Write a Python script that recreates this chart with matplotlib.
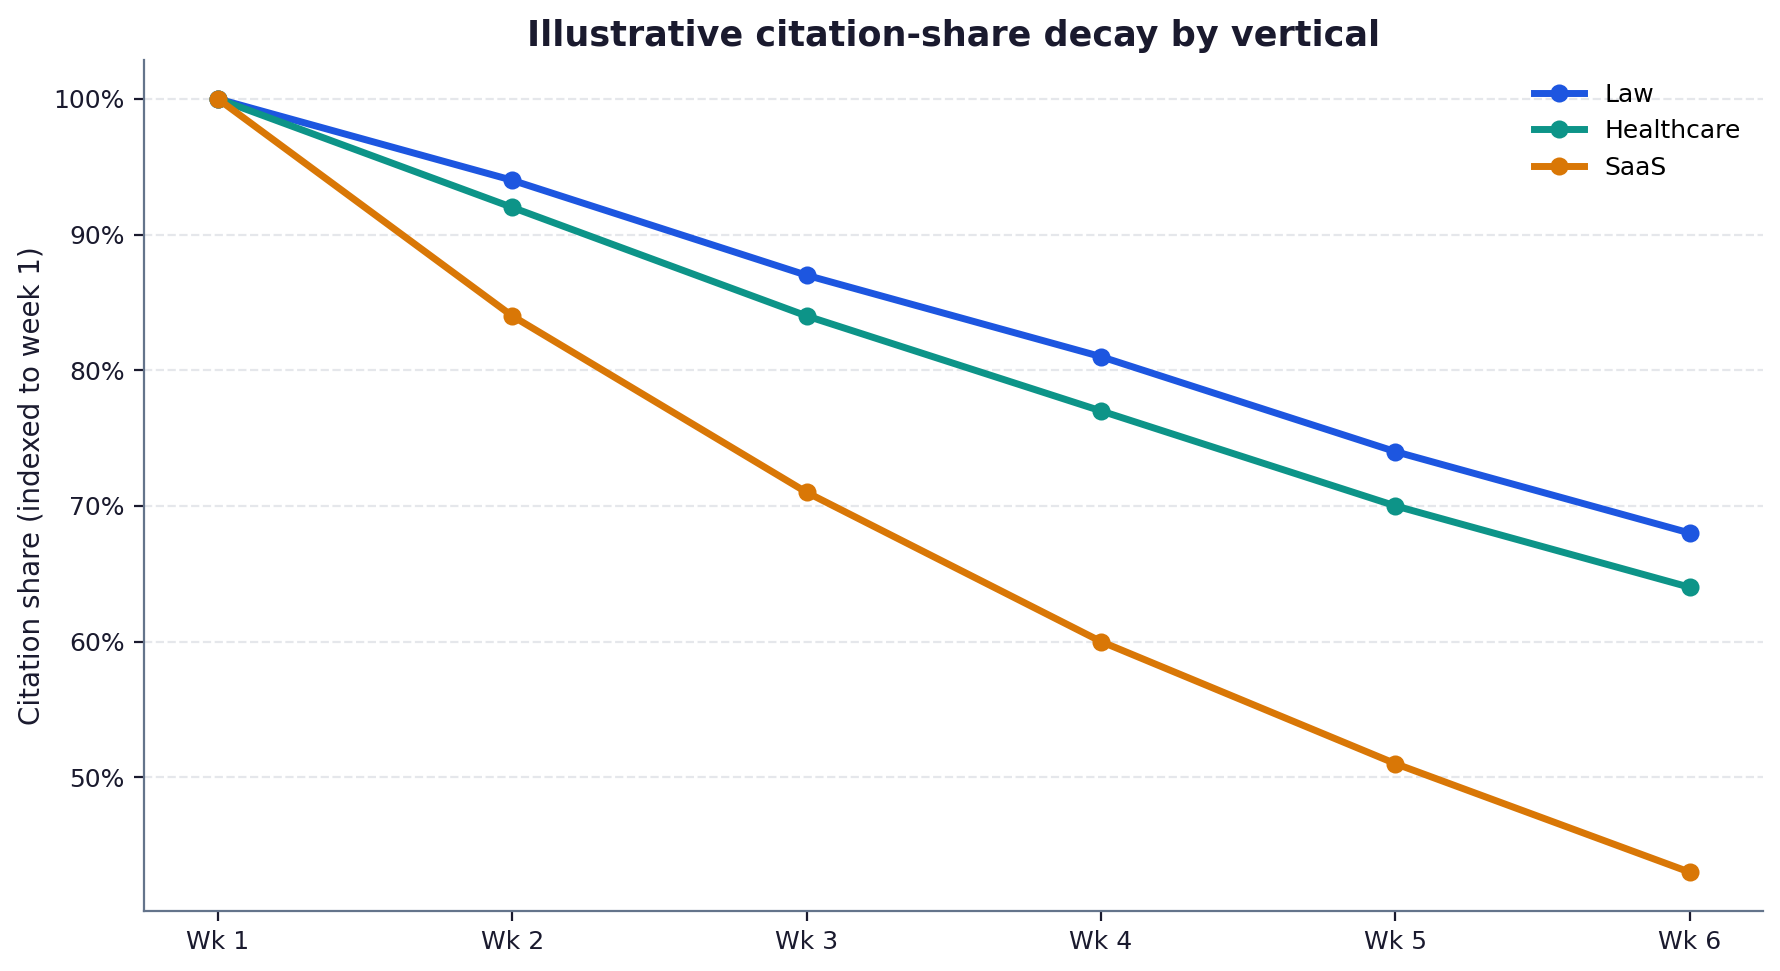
import matplotlib
matplotlib.use('Agg')
import matplotlib.pyplot as plt
from matplotlib.ticker import FuncFormatter

weeks = ['Wk 1', 'Wk 2', 'Wk 3', 'Wk 4', 'Wk 5', 'Wk 6']
law = [100, 94, 87, 81, 74, 68]
healthcare = [100, 92, 84, 77, 70, 64]
saas = [100, 84, 71, 60, 51, 43]

text_col = '#1a1a2e'
spine_col = '#64748b'

fig, ax = plt.subplots(figsize=(8.905, 4.855), dpi=200)
fig.subplots_adjust(left=0.081, right=0.99, top=0.938, bottom=0.062)

x = range(len(weeks))
ax.plot(x, law, color='#1d56e0', lw=2.5, marker='o', ms=5.5, label='Law')
ax.plot(x, healthcare, color='#0d9488', lw=2.5, marker='o', ms=5.5, label='Healthcare')
ax.plot(x, saas, color='#d97706', lw=2.5, marker='o', ms=5.5, label='SaaS')

ax.set_xticks(list(x))
ax.set_xticklabels(weeks)
ax.yaxis.set_major_formatter(FuncFormatter(lambda v, p: f'{v:.0f}%'))
ax.set_yticks([50, 60, 70, 80, 90, 100])
ax.grid(axis='y', ls='--', color='#e5e7eb', lw=0.8)
ax.set_axisbelow(True)

for s in ['top', 'right']:
    ax.spines[s].set_visible(False)
for s in ['left', 'bottom']:
    ax.spines[s].set_color(spine_col)
ax.tick_params(colors=text_col, labelsize=9)

ax.set_title('Illustrative citation-share decay by vertical', fontsize=12.6,
             fontweight='bold', color=text_col, pad=5)
ax.set_ylabel('Citation share (indexed to week 1)', fontsize=10, color=text_col, labelpad=3)
ax.legend(frameon=False, fontsize=9, loc='upper right')

fig.savefig('out.png', dpi=200)
